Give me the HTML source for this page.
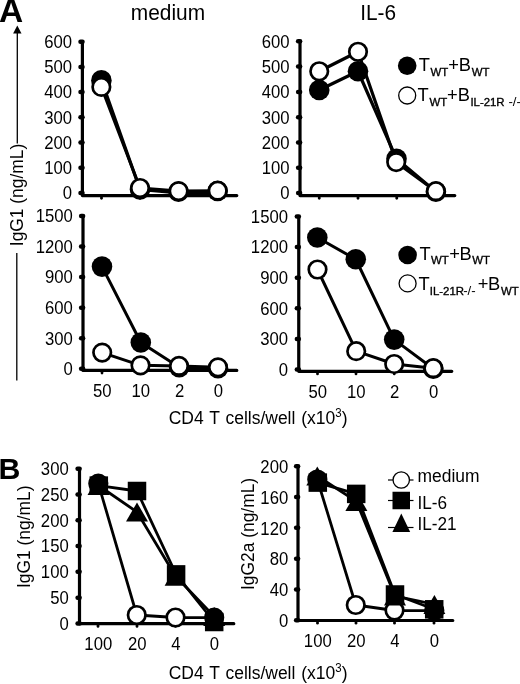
<!DOCTYPE html>
<html lang="en">
<head>
<meta charset="utf-8">
<title>Figure</title>
<style>
html,body{margin:0;padding:0;background:#fff;}
body{width:520px;height:684px;overflow:hidden;}
svg{display:block;}
svg text{font-family:"Liberation Sans", sans-serif;fill:#000;}
</style>
</head>
<body>
<svg width="520" height="684" viewBox="0 0 520 684">
<rect width="520" height="684" fill="#fff"/>
<path d="M82.4 41.7V195.6H236.8" fill="none" stroke="#000" stroke-width="3.2" stroke-linecap="round" stroke-linejoin="round"/>
<line x1="80.50" y1="41.70" x2="82.50" y2="41.70" stroke="#000" stroke-width="4.5" stroke-linecap="round"/>
<text transform="translate(72 48.0) scale(1 1.07)" font-size="16.7" text-anchor="end">600</text>
<line x1="80.50" y1="66.90" x2="82.50" y2="66.90" stroke="#000" stroke-width="4.5" stroke-linecap="round"/>
<text transform="translate(72 73.2) scale(1 1.07)" font-size="16.7" text-anchor="end">500</text>
<line x1="80.50" y1="92.10" x2="82.50" y2="92.10" stroke="#000" stroke-width="4.5" stroke-linecap="round"/>
<text transform="translate(72 98.4) scale(1 1.07)" font-size="16.7" text-anchor="end">400</text>
<line x1="80.50" y1="117.30" x2="82.50" y2="117.30" stroke="#000" stroke-width="4.5" stroke-linecap="round"/>
<text transform="translate(72 123.6) scale(1 1.07)" font-size="16.7" text-anchor="end">300</text>
<line x1="80.50" y1="142.50" x2="82.50" y2="142.50" stroke="#000" stroke-width="4.5" stroke-linecap="round"/>
<text transform="translate(72 148.8) scale(1 1.07)" font-size="16.7" text-anchor="end">200</text>
<line x1="80.50" y1="167.70" x2="82.50" y2="167.70" stroke="#000" stroke-width="4.5" stroke-linecap="round"/>
<text transform="translate(72 174.0) scale(1 1.07)" font-size="16.7" text-anchor="end">100</text>
<line x1="80.50" y1="192.90" x2="82.50" y2="192.90" stroke="#000" stroke-width="4.5" stroke-linecap="round"/>
<text transform="translate(72 199.2) scale(1 1.07)" font-size="16.7" text-anchor="end">0</text>
<line x1="101.50" y1="195.6" x2="101.50" y2="198.30" stroke="#000" stroke-width="2.7" stroke-linecap="round"/>
<line x1="140.00" y1="195.6" x2="140.00" y2="198.30" stroke="#000" stroke-width="2.7" stroke-linecap="round"/>
<line x1="178.75" y1="195.6" x2="178.75" y2="198.30" stroke="#000" stroke-width="2.7" stroke-linecap="round"/>
<line x1="217.50" y1="195.6" x2="217.50" y2="198.30" stroke="#000" stroke-width="2.7" stroke-linecap="round"/>
<path d="M101.40 80.40L140.00 189.50L178.50 192.90L217.60 192.50" fill="none" stroke="#000" stroke-width="3.2" stroke-linejoin="round" stroke-linecap="round"/>
<circle cx="101.40" cy="80.40" r="10.3" fill="#000"/>
<circle cx="140.00" cy="189.50" r="10.3" fill="#000"/>
<circle cx="178.50" cy="191.70" r="10.3" fill="#000"/>
<circle cx="217.60" cy="191.00" r="10.3" fill="#000"/>
<path d="M101.35 86.90L140.00 188.00L178.60 191.10L217.70 190.70" fill="none" stroke="#000" stroke-width="3.0" stroke-linejoin="round" stroke-linecap="round"/>
<circle cx="101.35" cy="86.90" r="8.75" fill="#fff" stroke="#000" stroke-width="2.7"/>
<circle cx="140.00" cy="188.00" r="8.75" fill="#fff" stroke="#000" stroke-width="2.7"/>
<circle cx="178.60" cy="191.10" r="8.75" fill="#fff" stroke="#000" stroke-width="2.7"/>
<circle cx="217.70" cy="190.70" r="8.75" fill="#fff" stroke="#000" stroke-width="2.7"/>
<path d="M300 41.3V195.6H454.8" fill="none" stroke="#000" stroke-width="3.2" stroke-linecap="round" stroke-linejoin="round"/>
<line x1="298.10" y1="41.30" x2="300.10" y2="41.30" stroke="#000" stroke-width="4.5" stroke-linecap="round"/>
<text transform="translate(289.5 47.6) scale(1 1.07)" font-size="16.7" text-anchor="end">600</text>
<line x1="298.10" y1="66.60" x2="300.10" y2="66.60" stroke="#000" stroke-width="4.5" stroke-linecap="round"/>
<text transform="translate(289.5 72.9) scale(1 1.07)" font-size="16.7" text-anchor="end">500</text>
<line x1="298.10" y1="91.90" x2="300.10" y2="91.90" stroke="#000" stroke-width="4.5" stroke-linecap="round"/>
<text transform="translate(289.5 98.2) scale(1 1.07)" font-size="16.7" text-anchor="end">400</text>
<line x1="298.10" y1="117.20" x2="300.10" y2="117.20" stroke="#000" stroke-width="4.5" stroke-linecap="round"/>
<text transform="translate(289.5 123.5) scale(1 1.07)" font-size="16.7" text-anchor="end">300</text>
<line x1="298.10" y1="142.50" x2="300.10" y2="142.50" stroke="#000" stroke-width="4.5" stroke-linecap="round"/>
<text transform="translate(289.5 148.8) scale(1 1.07)" font-size="16.7" text-anchor="end">200</text>
<line x1="298.10" y1="167.80" x2="300.10" y2="167.80" stroke="#000" stroke-width="4.5" stroke-linecap="round"/>
<text transform="translate(289.5 174.1) scale(1 1.07)" font-size="16.7" text-anchor="end">100</text>
<line x1="298.10" y1="193.10" x2="300.10" y2="193.10" stroke="#000" stroke-width="4.5" stroke-linecap="round"/>
<text transform="translate(289.5 199.4) scale(1 1.07)" font-size="16.7" text-anchor="end">0</text>
<line x1="319.25" y1="195.6" x2="319.25" y2="198.30" stroke="#000" stroke-width="2.7" stroke-linecap="round"/>
<line x1="358.00" y1="195.6" x2="358.00" y2="198.30" stroke="#000" stroke-width="2.7" stroke-linecap="round"/>
<line x1="396.75" y1="195.6" x2="396.75" y2="198.30" stroke="#000" stroke-width="2.7" stroke-linecap="round"/>
<line x1="435.50" y1="195.6" x2="435.50" y2="198.30" stroke="#000" stroke-width="2.7" stroke-linecap="round"/>
<path d="M319.25 90.00L358.00 71.25L396.50 158.80L435.90 191.70" fill="none" stroke="#000" stroke-width="3.2" stroke-linejoin="round" stroke-linecap="round"/>
<circle cx="319.25" cy="90.00" r="10.3" fill="#000"/>
<circle cx="358.00" cy="71.25" r="10.3" fill="#000"/>
<circle cx="396.50" cy="158.80" r="10.3" fill="#000"/>
<circle cx="435.90" cy="191.70" r="10.3" fill="#000"/>
<path d="M319.25 71.25L358.00 51.75L396.20 162.10L435.90 191.20" fill="none" stroke="#000" stroke-width="3.2" stroke-linejoin="round" stroke-linecap="round"/>
<circle cx="319.25" cy="71.25" r="8.75" fill="#fff" stroke="#000" stroke-width="2.7"/>
<circle cx="358.00" cy="51.75" r="8.75" fill="#fff" stroke="#000" stroke-width="2.7"/>
<circle cx="396.20" cy="162.10" r="8.75" fill="#fff" stroke="#000" stroke-width="2.7"/>
<circle cx="435.90" cy="191.20" r="8.75" fill="#fff" stroke="#000" stroke-width="2.7"/>
<path d="M83 216V370.4H236.8" fill="none" stroke="#000" stroke-width="3.2" stroke-linecap="round" stroke-linejoin="round"/>
<line x1="81.10" y1="216.00" x2="83.10" y2="216.00" stroke="#000" stroke-width="4.5" stroke-linecap="round"/>
<text transform="translate(72.8 222.3) scale(1 1.07)" font-size="16.7" text-anchor="end">1500</text>
<line x1="81.10" y1="246.55" x2="83.10" y2="246.55" stroke="#000" stroke-width="4.5" stroke-linecap="round"/>
<text transform="translate(72.8 252.85) scale(1 1.07)" font-size="16.7" text-anchor="end">1200</text>
<line x1="81.10" y1="277.10" x2="83.10" y2="277.10" stroke="#000" stroke-width="4.5" stroke-linecap="round"/>
<text transform="translate(72.8 283.4) scale(1 1.07)" font-size="16.7" text-anchor="end">900</text>
<line x1="81.10" y1="307.65" x2="83.10" y2="307.65" stroke="#000" stroke-width="4.5" stroke-linecap="round"/>
<text transform="translate(72.8 313.95) scale(1 1.07)" font-size="16.7" text-anchor="end">600</text>
<line x1="81.10" y1="338.20" x2="83.10" y2="338.20" stroke="#000" stroke-width="4.5" stroke-linecap="round"/>
<text transform="translate(72.8 344.5) scale(1 1.07)" font-size="16.7" text-anchor="end">300</text>
<line x1="81.10" y1="368.75" x2="83.10" y2="368.75" stroke="#000" stroke-width="4.5" stroke-linecap="round"/>
<text transform="translate(72.8 375.05) scale(1 1.07)" font-size="16.7" text-anchor="end">0</text>
<line x1="102.00" y1="370.4" x2="102.00" y2="373.10" stroke="#000" stroke-width="2.7" stroke-linecap="round"/>
<text transform="translate(102.3 396.9) scale(1 1.07)" font-size="16.7" text-anchor="middle">50</text>
<line x1="140.50" y1="370.4" x2="140.50" y2="373.10" stroke="#000" stroke-width="2.7" stroke-linecap="round"/>
<text transform="translate(140.8 396.9) scale(1 1.07)" font-size="16.7" text-anchor="middle">10</text>
<line x1="179.25" y1="370.4" x2="179.25" y2="373.10" stroke="#000" stroke-width="2.7" stroke-linecap="round"/>
<text transform="translate(179.55 396.9) scale(1 1.07)" font-size="16.7" text-anchor="middle">2</text>
<line x1="218.00" y1="370.4" x2="218.00" y2="373.10" stroke="#000" stroke-width="2.7" stroke-linecap="round"/>
<text transform="translate(218.3 396.9) scale(1 1.07)" font-size="16.7" text-anchor="middle">0</text>
<path d="M102.00 266.60L140.80 342.50L179.25 367.30L218.00 368.30" fill="none" stroke="#000" stroke-width="3.0" stroke-linejoin="round" stroke-linecap="round"/>
<circle cx="102.00" cy="266.60" r="10.3" fill="#000"/>
<circle cx="140.80" cy="342.50" r="10.3" fill="#000"/>
<circle cx="179.25" cy="367.30" r="10.3" fill="#000"/>
<circle cx="218.00" cy="368.30" r="10.3" fill="#000"/>
<path d="M102.20 352.60L140.50 365.30L179.00 365.90L218.00 367.30" fill="none" stroke="#000" stroke-width="3.0" stroke-linejoin="round" stroke-linecap="round"/>
<circle cx="102.20" cy="352.60" r="8.75" fill="#fff" stroke="#000" stroke-width="2.7"/>
<circle cx="140.50" cy="365.30" r="8.75" fill="#fff" stroke="#000" stroke-width="2.7"/>
<circle cx="179.00" cy="365.90" r="8.75" fill="#fff" stroke="#000" stroke-width="2.7"/>
<circle cx="218.00" cy="367.30" r="8.75" fill="#fff" stroke="#000" stroke-width="2.7"/>
<path d="M298.75 216.5V371.3H451.8" fill="none" stroke="#000" stroke-width="3.2" stroke-linecap="round" stroke-linejoin="round"/>
<line x1="296.85" y1="216.50" x2="298.85" y2="216.50" stroke="#000" stroke-width="4.5" stroke-linecap="round"/>
<text transform="translate(288 222.8) scale(1 1.07)" font-size="16.7" text-anchor="end">1500</text>
<line x1="296.85" y1="247.12" x2="298.85" y2="247.12" stroke="#000" stroke-width="4.5" stroke-linecap="round"/>
<text transform="translate(288 253.42) scale(1 1.07)" font-size="16.7" text-anchor="end">1200</text>
<line x1="296.85" y1="277.74" x2="298.85" y2="277.74" stroke="#000" stroke-width="4.5" stroke-linecap="round"/>
<text transform="translate(288 284.04) scale(1 1.07)" font-size="16.7" text-anchor="end">900</text>
<line x1="296.85" y1="308.36" x2="298.85" y2="308.36" stroke="#000" stroke-width="4.5" stroke-linecap="round"/>
<text transform="translate(288 314.66) scale(1 1.07)" font-size="16.7" text-anchor="end">600</text>
<line x1="296.85" y1="338.98" x2="298.85" y2="338.98" stroke="#000" stroke-width="4.5" stroke-linecap="round"/>
<text transform="translate(288 345.28) scale(1 1.07)" font-size="16.7" text-anchor="end">300</text>
<line x1="296.85" y1="369.60" x2="298.85" y2="369.60" stroke="#000" stroke-width="4.5" stroke-linecap="round"/>
<text transform="translate(288 375.9) scale(1 1.07)" font-size="16.7" text-anchor="end">0</text>
<line x1="317.50" y1="371.3" x2="317.50" y2="374.00" stroke="#000" stroke-width="2.7" stroke-linecap="round"/>
<text transform="translate(317.8 398.0) scale(1 1.07)" font-size="16.7" text-anchor="middle">50</text>
<line x1="356.00" y1="371.3" x2="356.00" y2="374.00" stroke="#000" stroke-width="2.7" stroke-linecap="round"/>
<text transform="translate(356.3 398.0) scale(1 1.07)" font-size="16.7" text-anchor="middle">10</text>
<line x1="394.25" y1="371.3" x2="394.25" y2="374.00" stroke="#000" stroke-width="2.7" stroke-linecap="round"/>
<text transform="translate(394.55 398.0) scale(1 1.07)" font-size="16.7" text-anchor="middle">2</text>
<line x1="433.25" y1="371.3" x2="433.25" y2="374.00" stroke="#000" stroke-width="2.7" stroke-linecap="round"/>
<text transform="translate(433.55 398.0) scale(1 1.07)" font-size="16.7" text-anchor="middle">0</text>
<path d="M317.30 237.50L355.75 259.25L394.20 339.60L433.30 368.70" fill="none" stroke="#000" stroke-width="3.0" stroke-linejoin="round" stroke-linecap="round"/>
<circle cx="317.30" cy="237.50" r="10.3" fill="#000"/>
<circle cx="355.75" cy="259.25" r="10.3" fill="#000"/>
<circle cx="394.20" cy="339.60" r="10.3" fill="#000"/>
<circle cx="433.30" cy="368.70" r="10.3" fill="#000"/>
<path d="M317.50 269.50L356.20 351.20L394.20 364.00L433.30 368.20" fill="none" stroke="#000" stroke-width="3.0" stroke-linejoin="round" stroke-linecap="round"/>
<circle cx="317.50" cy="269.50" r="8.75" fill="#fff" stroke="#000" stroke-width="2.7"/>
<circle cx="356.20" cy="351.20" r="8.75" fill="#fff" stroke="#000" stroke-width="2.7"/>
<circle cx="394.20" cy="364.00" r="8.75" fill="#fff" stroke="#000" stroke-width="2.7"/>
<circle cx="433.30" cy="368.20" r="8.75" fill="#fff" stroke="#000" stroke-width="2.7"/>
<path d="M79.5 468.75V623.7H233.8" fill="none" stroke="#000" stroke-width="3.2" stroke-linecap="round" stroke-linejoin="round"/>
<line x1="77.60" y1="468.75" x2="79.60" y2="468.75" stroke="#000" stroke-width="4.5" stroke-linecap="round"/>
<text transform="translate(68.7 475.05) scale(1 1.07)" font-size="16.7" text-anchor="end">300</text>
<line x1="77.60" y1="494.53" x2="79.60" y2="494.53" stroke="#000" stroke-width="4.5" stroke-linecap="round"/>
<text transform="translate(68.7 500.83) scale(1 1.07)" font-size="16.7" text-anchor="end">250</text>
<line x1="77.60" y1="520.31" x2="79.60" y2="520.31" stroke="#000" stroke-width="4.5" stroke-linecap="round"/>
<text transform="translate(68.7 526.61) scale(1 1.07)" font-size="16.7" text-anchor="end">200</text>
<line x1="77.60" y1="546.09" x2="79.60" y2="546.09" stroke="#000" stroke-width="4.5" stroke-linecap="round"/>
<text transform="translate(68.7 552.39) scale(1 1.07)" font-size="16.7" text-anchor="end">150</text>
<line x1="77.60" y1="571.87" x2="79.60" y2="571.87" stroke="#000" stroke-width="4.5" stroke-linecap="round"/>
<text transform="translate(68.7 578.17) scale(1 1.07)" font-size="16.7" text-anchor="end">100</text>
<line x1="77.60" y1="597.65" x2="79.60" y2="597.65" stroke="#000" stroke-width="4.5" stroke-linecap="round"/>
<text transform="translate(68.7 603.95) scale(1 1.07)" font-size="16.7" text-anchor="end">50</text>
<line x1="77.60" y1="623.43" x2="79.60" y2="623.43" stroke="#000" stroke-width="4.5" stroke-linecap="round"/>
<text transform="translate(68.7 629.73) scale(1 1.07)" font-size="16.7" text-anchor="end">0</text>
<line x1="98.00" y1="623.7" x2="98.00" y2="626.40" stroke="#000" stroke-width="2.7" stroke-linecap="round"/>
<text transform="translate(98.3 649.8000000000001) scale(1 1.07)" font-size="16.7" text-anchor="middle">100</text>
<line x1="137.00" y1="623.7" x2="137.00" y2="626.40" stroke="#000" stroke-width="2.7" stroke-linecap="round"/>
<text transform="translate(137.3 649.8000000000001) scale(1 1.07)" font-size="16.7" text-anchor="middle">20</text>
<line x1="175.50" y1="623.7" x2="175.50" y2="626.40" stroke="#000" stroke-width="2.7" stroke-linecap="round"/>
<text transform="translate(175.8 649.8000000000001) scale(1 1.07)" font-size="16.7" text-anchor="middle">4</text>
<line x1="214.00" y1="623.7" x2="214.00" y2="626.40" stroke="#000" stroke-width="2.7" stroke-linecap="round"/>
<text transform="translate(214.3 649.8000000000001) scale(1 1.07)" font-size="16.7" text-anchor="middle">0</text>
<path d="M98.30 483.60L136.75 615.00L175.50 617.50L214.20 617.60" fill="none" stroke="#000" stroke-width="2.8" stroke-linejoin="round" stroke-linecap="round"/>
<circle cx="98.30" cy="483.60" r="8.75" fill="#000" stroke="#000" stroke-width="2.7"/>
<circle cx="136.75" cy="615.00" r="8.75" fill="#fff" stroke="#000" stroke-width="2.7"/>
<circle cx="175.50" cy="617.50" r="8.75" fill="#fff" stroke="#000" stroke-width="2.7"/>
<circle cx="214.20" cy="617.60" r="8.75" fill="#000" stroke="#000" stroke-width="2.7"/>
<path d="M98.50 485.50L137.00 512.00L175.60 576.20L214.20 616.40" fill="none" stroke="#000" stroke-width="2.8" stroke-linejoin="round" stroke-linecap="round"/>
<path d="M98.50 476.00L109.50 495.00H87.50Z" fill="#000"/>
<path d="M137.00 502.50L148.00 521.50H126.00Z" fill="#000"/>
<path d="M175.60 566.70L186.60 585.70H164.60Z" fill="#000"/>
<path d="M214.20 606.90L225.20 625.90H203.20Z" fill="#000"/>
<path d="M98.80 485.60L137.00 491.00L176.10 574.40L214.20 622.00" fill="none" stroke="#000" stroke-width="2.8" stroke-linejoin="round" stroke-linecap="round"/>
<rect x="89.55" y="476.35" width="18.5" height="18.5" fill="#000"/>
<rect x="127.75" y="481.75" width="18.5" height="18.5" fill="#000"/>
<rect x="166.85" y="565.15" width="18.5" height="18.5" fill="#000"/>
<rect x="204.95" y="612.75" width="18.5" height="18.5" fill="#000"/>
<path d="M298 466.25V620.5H452.8" fill="none" stroke="#000" stroke-width="3.2" stroke-linecap="round" stroke-linejoin="round"/>
<line x1="296.10" y1="466.25" x2="298.10" y2="466.25" stroke="#000" stroke-width="4.5" stroke-linecap="round"/>
<text transform="translate(288.2 473.05) scale(1 1.07)" font-size="16.7" text-anchor="end">200</text>
<line x1="296.10" y1="497.05" x2="298.10" y2="497.05" stroke="#000" stroke-width="4.5" stroke-linecap="round"/>
<text transform="translate(288.2 503.85) scale(1 1.07)" font-size="16.7" text-anchor="end">160</text>
<line x1="296.10" y1="527.85" x2="298.10" y2="527.85" stroke="#000" stroke-width="4.5" stroke-linecap="round"/>
<text transform="translate(288.2 534.65) scale(1 1.07)" font-size="16.7" text-anchor="end">120</text>
<line x1="296.10" y1="558.65" x2="298.10" y2="558.65" stroke="#000" stroke-width="4.5" stroke-linecap="round"/>
<text transform="translate(288.2 565.45) scale(1 1.07)" font-size="16.7" text-anchor="end">80</text>
<line x1="296.10" y1="589.45" x2="298.10" y2="589.45" stroke="#000" stroke-width="4.5" stroke-linecap="round"/>
<text transform="translate(288.2 596.25) scale(1 1.07)" font-size="16.7" text-anchor="end">40</text>
<line x1="296.10" y1="620.25" x2="298.10" y2="620.25" stroke="#000" stroke-width="4.5" stroke-linecap="round"/>
<text transform="translate(288.2 627.05) scale(1 1.07)" font-size="16.7" text-anchor="end">0</text>
<line x1="317.50" y1="620.5" x2="317.50" y2="623.20" stroke="#000" stroke-width="2.7" stroke-linecap="round"/>
<text transform="translate(317.8 646.8000000000001) scale(1 1.07)" font-size="16.7" text-anchor="middle">100</text>
<line x1="356.00" y1="620.5" x2="356.00" y2="623.20" stroke="#000" stroke-width="2.7" stroke-linecap="round"/>
<text transform="translate(356.3 646.8000000000001) scale(1 1.07)" font-size="16.7" text-anchor="middle">20</text>
<line x1="394.50" y1="620.5" x2="394.50" y2="623.20" stroke="#000" stroke-width="2.7" stroke-linecap="round"/>
<text transform="translate(394.8 646.8000000000001) scale(1 1.07)" font-size="16.7" text-anchor="middle">4</text>
<line x1="434.00" y1="620.5" x2="434.00" y2="623.20" stroke="#000" stroke-width="2.7" stroke-linecap="round"/>
<text transform="translate(434.3 646.8000000000001) scale(1 1.07)" font-size="16.7" text-anchor="middle">0</text>
<path d="M317.30 479.50L355.75 605.00L394.50 610.50L434.30 610.60" fill="none" stroke="#000" stroke-width="2.8" stroke-linejoin="round" stroke-linecap="round"/>
<circle cx="317.30" cy="479.50" r="8.75" fill="#000" stroke="#000" stroke-width="2.7"/>
<circle cx="355.75" cy="605.00" r="8.75" fill="#fff" stroke="#000" stroke-width="2.7"/>
<circle cx="394.50" cy="610.50" r="8.75" fill="#fff" stroke="#000" stroke-width="2.7"/>
<circle cx="434.30" cy="610.60" r="8.75" fill="#000" stroke="#000" stroke-width="2.7"/>
<path d="M317.30 476.00L356.40 501.40L395.00 596.00L434.40 604.40" fill="none" stroke="#000" stroke-width="2.8" stroke-linejoin="round" stroke-linecap="round"/>
<path d="M317.30 466.50L328.30 485.50H306.30Z" fill="#000"/>
<path d="M356.40 491.90L367.40 510.90H345.40Z" fill="#000"/>
<path d="M395.00 586.50L406.00 605.50H384.00Z" fill="#000"/>
<path d="M434.40 594.90L445.40 613.90H423.40Z" fill="#000"/>
<path d="M317.80 482.60L356.20 493.90L395.00 594.50L434.20 609.30" fill="none" stroke="#000" stroke-width="2.8" stroke-linejoin="round" stroke-linecap="round"/>
<rect x="308.55" y="473.35" width="18.5" height="18.5" fill="#000"/>
<rect x="346.95" y="484.65" width="18.5" height="18.5" fill="#000"/>
<rect x="385.75" y="585.25" width="18.5" height="18.5" fill="#000"/>
<rect x="424.95" y="600.05" width="18.5" height="18.5" fill="#000"/>
<text transform="translate(130.8 19.6) scale(1 1.05)" font-size="20.9">medium</text>
<text transform="translate(360.2 19.6) scale(1 1.05)" font-size="20.8">IL-6</text>
<text x="-0.9" y="21.7" font-size="33.5" font-weight="bold">A</text>
<text x="-1.5" y="479.2" font-size="30.3" font-weight="bold">B</text>
<text transform="translate(168.7 423.9) scale(1 1.055)" font-size="17.5" word-spacing="1">CD4 T cells/well (x10<tspan font-size="11.5" dy="-6.2">3</tspan><tspan dy="6.2">)</tspan></text>
<text transform="translate(168.7 678.8) scale(1 1.055)" font-size="17.5" word-spacing="1">CD4 T cells/well (x10<tspan font-size="11.5" dy="-6.2">3</tspan><tspan dy="6.2">)</tspan></text>
<path d="M17.3 25.6L21.5 33.6H13.1Z" fill="#000"/>
<line x1="17.3" y1="33" x2="17.3" y2="143.5" stroke="#000" stroke-width="1.3"/>
<line x1="16.8" y1="253" x2="16.8" y2="380.5" stroke="#000" stroke-width="1.3"/>
<text transform="translate(23.2 246.2) rotate(-90) scale(1 1.08)" font-size="17.4">IgG1 (ng/mL)</text>
<text transform="translate(30.3 588) rotate(-90) scale(1 1.08)" font-size="17.4">IgG1 (ng/mL)</text>
<text transform="translate(253.6 590) rotate(-90) scale(1 1.08)" font-size="17.4">IgG2a (ng/mL)</text>
<circle cx="407.2" cy="65.75" r="9.3" fill="#000"/>
<circle cx="407.2" cy="95.5" r="8.5" fill="#fff" stroke="#000" stroke-width="1.3"/>
<text class="lg"><tspan x="418.7" y="71.3" font-size="18.3">T</tspan><tspan x="430.4" y="75.60" font-size="11.4" stroke="#000" stroke-width="0.35">WT</tspan><tspan x="448.2" y="71.3" font-size="18.3">+</tspan><tspan x="458.8" y="71.3" font-size="18.3">B</tspan><tspan x="471.7" y="75.60" font-size="11.4" stroke="#000" stroke-width="0.35">WT</tspan></text>
<text class="lg"><tspan x="417.6" y="101.4" font-size="18.3">T</tspan><tspan x="429.4" y="106.00" font-size="11.4" stroke="#000" stroke-width="0.35">WT</tspan><tspan x="447.1" y="101.4" font-size="18.3">+</tspan><tspan x="457.7" y="101.4" font-size="18.3">B</tspan><tspan x="470.4" y="106.00" font-size="11.4" stroke="#000" stroke-width="0.35">IL-21R</tspan><tspan x="508.4" y="106.00" font-size="13.2">-/-</tspan></text>
<circle cx="407.6" cy="255" r="9.3" fill="#000"/>
<circle cx="407.6" cy="283.4" r="8.5" fill="#fff" stroke="#000" stroke-width="1.3"/>
<text class="lg"><tspan x="419.5" y="260.1" font-size="18.3">T</tspan><tspan x="431.1" y="264.40" font-size="11.4" stroke="#000" stroke-width="0.35">WT</tspan><tspan x="449.3" y="260.1" font-size="18.3">+</tspan><tspan x="459.5" y="260.1" font-size="18.3">B</tspan><tspan x="472.3" y="264.40" font-size="11.4" stroke="#000" stroke-width="0.35">WT</tspan></text>
<text class="lg"><tspan x="418.5" y="290.3" font-size="18.3">T</tspan><tspan x="429.8" y="294.80" font-size="11.4" stroke="#000" stroke-width="0.35">IL-21R</tspan><tspan x="463.2" y="294.80" font-size="13.2">-/-</tspan><tspan x="477.8" y="290.3" font-size="18.3">+</tspan><tspan x="488" y="290.3" font-size="18.3">B</tspan><tspan x="500.9" y="294.80" font-size="11.4" stroke="#000" stroke-width="0.35">WT</tspan></text>
<line x1="388" y1="480" x2="413.5" y2="480" stroke="#000" stroke-width="1.2"/>
<line x1="388" y1="500.5" x2="413.5" y2="500.5" stroke="#000" stroke-width="1.2"/>
<line x1="388" y1="527.5" x2="413.5" y2="527.5" stroke="#000" stroke-width="1.2"/>
<circle cx="401.25" cy="480" r="8.2" fill="#fff" stroke="#000" stroke-width="1.3"/>
<rect x="392.5" y="491.75" width="17.5" height="17.5" fill="#000"/>
<path d="M401.3 513.6L410.2 532H392.4Z" fill="#000"/>
<text transform="translate(417.5 481.9) scale(1 1.04)" font-size="17.45">medium</text>
<text transform="translate(417.5 509.2) scale(1 1.05)" font-size="17.2">IL-6</text>
<text transform="translate(417.5 530.2) scale(1 1.05)" font-size="17.2">IL-21</text>
</svg>
</body>
</html>
